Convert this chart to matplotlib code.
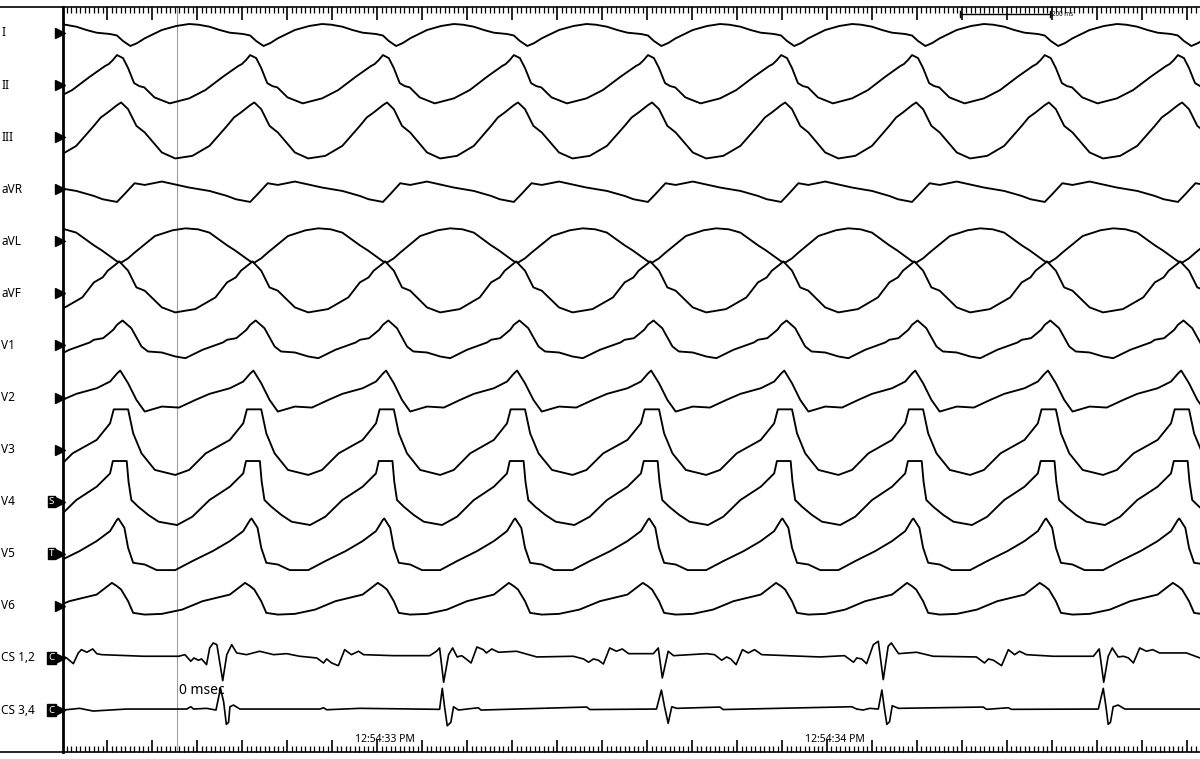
"""
体表12导联 + 冠状窦电图 (CS) 描记重绘
"""
import numpy as np
import matplotlib
matplotlib.use('Agg')
import matplotlib.pyplot as plt
from matplotlib.ticker import MultipleLocator
from matplotlib.lines import Line2D
import matplotlib.transforms as mtransforms

# 导联名称
leads = ['I', 'II', 'III', 'aVR', 'aVL', 'aVF', 'V1', 'V2', 'V3', 'V4', 'V5', 'V6', 'CS 1,2', 'CS 3,4']
lead_tags = {'V4': 'S', 'V5': 'T', 'CS 1,2': 'C', 'CS 3,4': 'C'}

# 每个心室波 (II导联峰值) 的时刻, ms
beat_times = [-176, 120, 416, 711, 1002, 1300, 1596, 1887, 2182, 2478, 2773]
nominal_rr = 288

# 心搏模板: (相对 II 峰值的时间 ms, 幅值)
tpl_I = [(0, -2.5), (13, -8), (29, -13), (44, -10), (60, -5.3), (97, 3), (128, 7), (156, 9), (176, 8.3),
         (200, 6.3), (222, 3), (244, 0.3), (273, -1), (288, -2.5)]
tpl_II = [(0, 30), (13, 27), (24, 17), (37, 2), (48, -1), (59, -2.3), (81, -12.3), (114, -18.3), (156, -13.3),
          (191, -5), (229, 8.3), (253, 16), (262, 19), (270, 21), (279, 25), (288, 30)]
tpl_III = [(0, 32), (9, 34.7), (24, 28), (42, 11.3), (60, 4.7), (97, -15.3), (126, -21.3), (163, -18.7),
           (200, -8.7), (238, 11.3), (253, 19.7), (268, 24.7), (288, 32)]
tpl_aVR = [(0, -12.7), (16, -5), (38, 6), (60, 4.3), (97, 7.7), (156, 1.7), (200, -1.7), (238, -6.7),
           (257, -10), (288, -12.7)]
tpl_aVL = [(0, -20), (9, -21.3), (24, -17), (38, -11.3), (82, 5.3), (120, 11), (148, 13), (175, 12),
           (200, 8.7), (238, -4), (255, -9), (270, -14), (288, -20)]
tpl_aVF = [(0, 30), (5, 32), (24, 22.7), (42, 6), (60, 2.7), (97, -14), (126, -19), (169, -15.7),
           (213, -4), (238, 11), (257, 16), (268, 22.7), (288, 30)]
tpl_V1 = [(0, 20.7), (12, 25), (31, 17.3), (53, -1), (67, -6), (97, -7), (126, -11), (148, -12.7),
          (185, -4.3), (229, 3), (238, 5.7), (258, 7.3), (280, 15.7), (288, 20.7)]
tpl_V2 = [(0, 24), (7, 27), (24, 14.3), (42, -2.3), (60, -14), (97, -9), (134, -10), (170, -2.3),
          (200, 3.7), (244, 9.3), (273, 16), (288, 24)]
tpl_V3 = [(0, 40.3), (24, 40.3), (35, 16.3), (53, -3.7), (82, -20.3), (126, -25.3), (156, -20.3),
          (192, -3.7), (244, 9.7), (273, 26.3), (281, 40.3), (288, 40.3)]
tpl_V4 = [(0, 40.7), (21, 40.7), (25, 20), (31, 1.7), (46, -5), (68, -13.3), (90, -20), (130, -23.3),
          (163, -15), (200, 1.7), (244, 15), (273, 28.3), (279, 40.7), (288, 40.7)]
tpl_V5 = [(0, 34), (3, 35.3), (16, 26), (24, 6), (35, -9), (60, -10.7), (86, -16.3), (126, -16.3),
          (163, -7.3), (207, 2.7), (244, 12.7), (273, 22.7), (288, 34)]
tpl_V6 = [(0, 19.7), (9, 16.3), (24, 4.7), (35, -7), (60, -8.7), (97, -8), (141, -3.7), (185, 4.7),
          (244, 11.3), (277, 23), (288, 19.7)]

# 冠状窦电图 (连续采样点): 时间 ms, 幅值
cs12_t = [0, 8, 23, 34, 41, 53, 66, 75, 86, 179, 257, 271, 284, 291, 301, 308, 319, 326, 334, 342, 355,
          364, 375, 386, 408, 437, 468, 497, 526, 564, 579, 586, 597, 612, 626, 641, 657, 668, 734, 815,
          830, 837, 846, 857, 866, 876, 886, 896, 907, 920, 934, 941, 953, 968, 1008, 1053, 1134, 1157,
          1168, 1179, 1190, 1201, 1215, 1230, 1243, 1257, 1312, 1323, 1332, 1345, 1357, 1430, 1448, 1464,
          1475, 1484, 1496, 1510, 1523, 1537, 1553, 1682, 1737, 1757, 1764, 1775, 1786, 1801, 1812, 1823,
          1834, 1841, 1857, 1897, 1934, 2030, 2048, 2057, 2068, 2086, 2101, 2115, 2126, 2141, 2201, 2290,
          2303, 2313, 2323, 2332, 2345, 2357, 2368, 2379, 2393, 2408, 2422, 2437, 2497, 2527]
cs12_v = [1.7, 0, -5.7, 5, 8.3, 5.7, 9, 4.3, 3.3, 1.7, 1.7, 3.3, -3.3, 0, -2.3, -1, -6.7, 10, 15, 13.3,
          -22.7, 3.3, 13.3, 5, 3.3, 6.7, 3.3, 4.3, 1.7, 0, -5, -1, -5, -7.7, 8.3, 3.3, 6.7, 3.3, 2.3, 2.3,
          6.7, 10, -24.3, 3.3, 10, 1, 2.3, -1, -5, 11, 8.3, 5, 9, 5.7, 6.7, 1, 1.7, -1, -4.3, -1, -2.3, -6,
          10, 6.7, 9, 4.3, 4.3, 10, -20, 6.7, 2.3, 4.3, 3.3, -2.3, 1, -1, -6.7, 8.3, 5, 8.3, 3.3, 1, 2.3,
          -4.3, 0, -1, -5.7, 13.3, 16.7, -21.7, 11.7, 15, 4.3, 5.7, 1.7, 1, -5, -1, -2.3, -7.7, 8.3, 3.3,
          6.7, 3.3, 1.7, 1.7, 9, -24.3, 1.7, 10, 1, 1.7, 0, -5, 10, 6.7, 8.3, 5, 5, 0]
cs34_t = [0, 37, 67, 141, 275, 284, 290, 319, 340, 350, 357, 363, 368, 371, 379, 393, 571, 579, 586, 660,
          837, 843, 848, 854, 862, 868, 879, 923, 929, 1164, 1171, 1319, 1330, 1337, 1345, 1353, 1364,
          1460, 1467, 1753, 1764, 1778, 1793, 1812, 1820, 1825, 1831, 1837, 1843, 1857, 2045, 2053, 2101,
          2108, 2301, 2312, 2318, 2323, 2328, 2334, 2345, 2360, 2527]
cs34_v = [0, 1.7, -1, 1, 1, 3.3, 1, 1.7, 0, 21.7, 8.3, -14.3, -12.3, 3.3, 5, 1, 1, 2.3, 0.3, 1.7,
          0.7, 21.7, 3.3, -15.7, -12.3, 3.3, 0, 2.3, 0, 3, 0.5, 1, 20, 3.3, -13.3, 3.3, 1.7,
          3, 0.5, 3.3, 1, 0, 1.7, 1, 20, 3.3, -14.3, -11.7, 4.3, 1.7, 3, 0.7, 2.3,
          0.7, 1, 21.7, 3.3, -14.3, -12.3, 3.3, 5, 1, 1]

templates = [tpl_I, tpl_II, tpl_III, tpl_aVR, tpl_aVL, tpl_aVF,
             tpl_V1, tpl_V2, tpl_V3, tpl_V4, tpl_V5, tpl_V6]

# 时间轴
t_end = 2527
tick_offset = 98
cursor_t = 253
clock_labels = ['12:54:33 PM', '12:54:34 PM']
clock_times = [716, 1716]
scale_bar = (1993, 2193)
spacing = 52.08


# 按心搏时刻把模板拼接成连续波形
def build_trace(tpl):
    ts, ys = [], []
    for k in range(len(beat_times) - 1):
        t0, t1 = beat_times[k], beat_times[k + 1]
        rr = t1 - t0
        for t, a in tpl[:-1]:
            ts.append(t0 + t * rr / nominal_rr)
            ys.append(a)
    return np.array(ts), np.array(ys)


plt.rcParams['font.family'] = ['Noto Sans', 'DejaVu Sans']
W, H = 1200, 759
fig = plt.figure(figsize=(W / 100, H / 100), dpi=100)
ax = fig.add_axes([63 / W, 7 / H, (W - 63) / W, (752 - 7) / H])
ax.set_xlim(0, t_end)
ax.set_ylim(-719, 26)

# 绘制体表导联
for i, tpl in enumerate(templates):
    ts, ys = build_trace(tpl)
    ax.plot(ts, ys - i * spacing, color='black', lw=1.35, solid_joinstyle='round')

# 绘制CS电图
ax.plot(cs12_t, np.array(cs12_v) - 12 * spacing, color='black', lw=1.2, solid_joinstyle='round')
ax.plot(cs34_t, np.array(cs34_v) - 13 * spacing, color='black', lw=1.2, solid_joinstyle='round')

# 光标线
ax.axvline(cursor_t, color='#a0a0a0', lw=0.8, zorder=0)
ax.text(cursor_t + 4, -658, '0 msec', fontsize=10, ha='left', va='center')

# 坐标轴样式
ax.spines['right'].set_visible(False)
ax.spines['left'].set_linewidth(2.0)
ax.spines['top'].set_linewidth(1.2)
ax.spines['bottom'].set_linewidth(1.2)
ax.set_yticks([])
ax.xaxis.set_major_locator(MultipleLocator(100, offset=tick_offset))
ax.xaxis.set_minor_locator(MultipleLocator(10, offset=tick_offset % 10))
ax.tick_params(axis='x', which='both', direction='in', top=True, bottom=True,
               labelbottom=False, labeltop=False)
ax.tick_params(axis='x', which='major', length=9, width=1.2)
ax.tick_params(axis='x', which='minor', length=4, width=0.9)

# 顶部/底部线延伸到左侧标签区
for yp in [7, 752]:
    fig.add_artist(Line2D([0, 63 / W], [1 - yp / H, 1 - yp / H], transform=fig.transFigure,
                          color='black', lw=1.2))

# 导联标签与标记
trans = mtransforms.blended_transform_factory(fig.transFigure, ax.transData)
for i, name in enumerate(leads):
    y0 = -i * spacing
    ax.text(1 / W, y0, name, transform=trans, fontsize=8.5, ha='left', va='center')
    ax.plot([59.5 / W], [y0], marker='>', color='black', markersize=6.5, transform=trans, clip_on=False)
    if name in lead_tags:
        ax.text(51.5 / W, y0, lead_tags[name], transform=trans, fontsize=7, color='white',
                ha='center', va='center',
                bbox=dict(boxstyle='square,pad=0.12', facecolor='black', edgecolor='black'))

# 时间标签
for lab, t in zip(clock_labels, clock_times):
    ax.text(t, -706, lab, fontsize=7.5, ha='center', va='center')

# 200 ms 比例尺
ax.plot(list(scale_bar), [19, 19], color='black', lw=1.0)
for t in scale_bar:
    ax.plot([t, t], [16, 22], color='black', lw=1.0)
ax.text(scale_bar[1] + 6, 18, '200 ms', fontsize=4.5, fontweight='bold', ha='left', va='center')

fig.savefig('out.png', dpi=100)
